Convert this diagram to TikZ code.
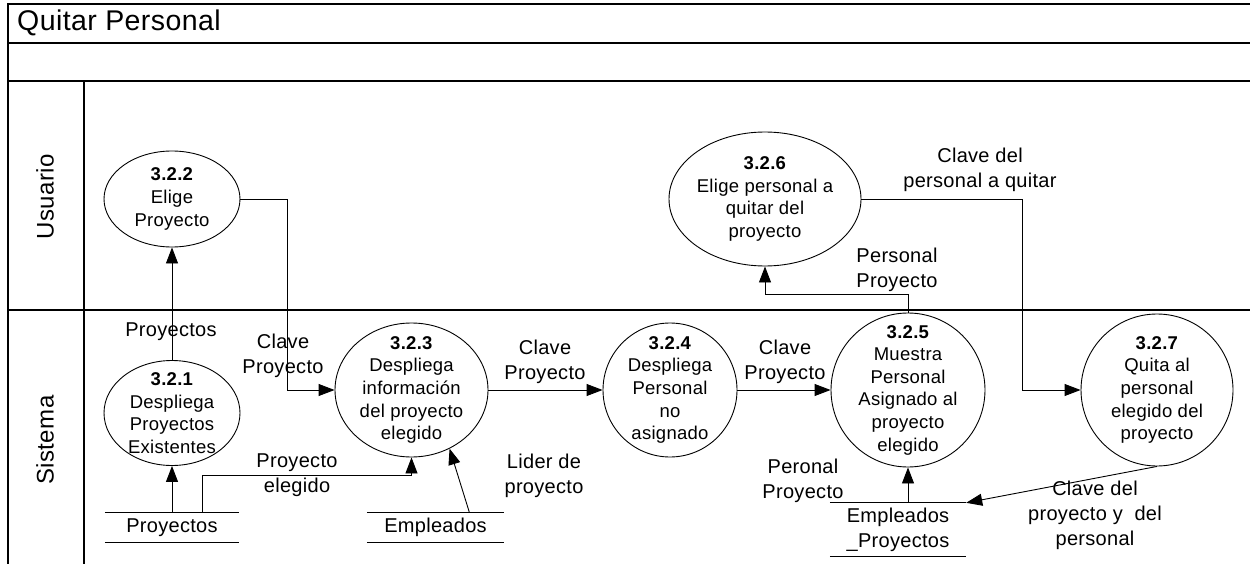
\documentclass[tikz,border=0pt]{standalone}
\usepackage{fontspec}
\setmainfont[LetterSpace=1.5]{Liberation Sans}
\usetikzlibrary{arrows.meta,shapes.geometric,calc}
\tikzset{
  proc/.style 2 args={ellipse,draw,line width=0.9pt,minimum width=#1,minimum height=#2,inner sep=0pt},
  ptext/.style={font=\fontsize{18.5}{22.6}\selectfont,align=center,inner sep=0pt},
  flow/.style={-{Triangle[length=16pt,width=12pt]},line width=0.9pt},
  flbl/.style={font=\fontsize{20}{25}\selectfont,align=center,inner sep=0pt},
  store/.style 2 args={minimum width=#1,minimum height=#2,inner sep=0pt,font=\fontsize{20}{25}\selectfont,align=center},
  frame/.style={line width=1.4pt},
  lane/.style={font=\fontsize{24}{28}\selectfont,rotate=90,inner sep=0pt},
}
\begin{document}
\begin{tikzpicture}[x=1pt,y=-1pt]
  \useasboundingbox (0,0) rectangle (1250,564);
  % marco y carriles
  \draw[frame] (1250,4) -- (8,4) -- (8,564);
  \foreach \y in {43,81,310} \draw[frame] (8,\y) -- (1250,\y);
  \draw[frame] (84,81) -- (84,564);
  \node[anchor=west,font=\fontsize{28.5}{32}\selectfont,inner sep=0pt] (title) at (17,23) {Quitar Personal};
  \node[lane] (usr) at (45,197) {Usuario};
  \node[lane] (sis) at (45,440) {Sistema};
  % procesos
  \node[proc={136pt}{96pt},label={[ptext]center:{\textbf{3.2.2}\\Elige\\Proyecto}}] (p322) at (172,199) {};
  \node[proc={192pt}{134pt},label={[ptext]center:{\textbf{3.2.6}\\Elige personal a\\quitar del\\proyecto}}] (p326) at (765,199) {};
  \node[proc={136pt}{105pt},label={[ptext]center:{\textbf{3.2.1}\\Despliega\\Proyectos\\Existentes}}] (p321) at (172,413) {};
  \node[proc={153pt}{134pt},label={[ptext]center:{\textbf{3.2.3}\\Despliega\\información\\del proyecto\\elegido}}] (p323) at (411.5,390) {};
  \node[proc={134pt}{134pt},label={[ptext]center:{\textbf{3.2.4}\\Despliega\\Personal\\no\\asignado}}] (p324) at (670,390) {};
  \node[proc={154pt}{154pt},label={[ptext]center:{\textbf{3.2.5}\\Muestra\\Personal\\Asignado al\\proyecto\\elegido}}] (p325) at (908,390) {};
  \node[proc={152pt}{152pt},label={[ptext]center:{\textbf{3.2.7}\\Quita al\\personal\\elegido del\\proyecto}}] (p327) at (1157,390) {};
  % almacenes
  \node[store={134pt}{29pt}] (s1) at (172,527.5) {Proyectos};
  \node[store={137pt}{29pt}] (s2) at (435.5,527.5) {Empleados};
  \node[store={136pt}{53pt}] (s3) at (898,529.5) {Empleados\\\_Proyectos};
  \foreach \s in {s1,s2,s3} \draw[line width=0.9pt] (\s.north west) -- (\s.north east) (\s.south west) -- (\s.south east);
  % flujos
  \draw[flow] (p321) -- (p322);
  \draw[flow] (p322.east) -| ([xshift=-47pt]p323.west) -- (p323.west);
  \draw[flow] (s1.north) -- (p321.south);
  \draw[flow] ([xshift=30pt]s1.north) |- ([yshift=-18pt]p323.south) -- (p323.south);
  \draw[flow] ([xshift=34pt]s2.north) -- (p323.-57);
  \draw[flow] (p323) -- (p324);
  \draw[flow] (p324) -- (p325);
  \draw[flow] (p325.north) |- ([yshift=-28pt]p326.south) -- (p326.south);
  \draw[flow] (p326.east) -| ([xshift=-58pt]p327.west) -- (p327.west);
  \draw[flow] (p327.south) -- (s3.north east);
  \draw[flow] (s3.north -| p325.south) -- (p325.south);
  % etiquetas de flujos
  \node[flbl] (l1) at (171,332) {Proyectos};
  \node[flbl] (l2) at (283,356) {Clave\\Proyecto};
  \node[flbl] (l3) at (297,475) {Proyecto\\elegido};
  \node[flbl] (l4) at (544,476) {Lider de\\proyecto};
  \node[flbl] (l5) at (545,362) {Clave\\Proyecto};
  \node[flbl] (l6) at (785,362) {Clave\\Proyecto};
  \node[flbl] (l7) at (897,270) {Personal\\Proyecto};
  \node[flbl] (l8) at (980,170) {Clave del\\personal a quitar};
  \node[flbl] (l9) at (803,481) {Peronal\\Proyecto};
  \node[flbl] (l10) at (1095,515) {Clave del\\proyecto y~ del\\personal};
\end{tikzpicture}
\end{document}
